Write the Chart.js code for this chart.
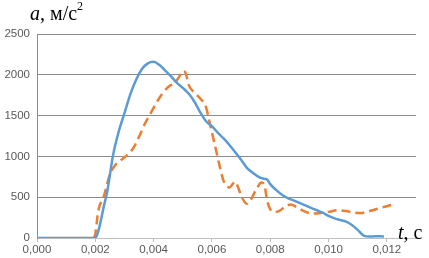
<!DOCTYPE html>
<html>
<head>
<meta charset="utf-8">
<script src="https://cdn.jsdelivr.net/npm/chart.js@4/dist/chart.umd.min.js"></script>
<style>
  html, body { margin: 0; padding: 0; background: #fff; }
  #wrap { position: relative; width: 429px; height: 258px; }
  .ttl { position: absolute; font-family: "Liberation Serif", "Times New Roman", serif; font-size: 20px; color: #000; white-space: nowrap; line-height: 1; }
  .ttl i { font-style: italic; }
  .ttl sup { font-size: 12px; position: relative; top: -3px; vertical-align: top; }
</style>
</head>
<body>
<div id="wrap">
  <canvas id="chart" width="429" height="258"></canvas>
  <div class="ttl" style="left:30px; top:3px;"><i>a</i>, м/с<sup>2</sup></div>
  <div class="ttl" style="left:398px; top:222px;"><i>t</i>, с</div>
</div>
<script>
// time, s
var tBlue = [0, 0.0005, 0.001, 0.0015, 0.002, 0.0021, 0.0022, 0.0023, 0.0024, 0.0025, 0.0026, 0.0028, 0.003, 0.0032, 0.0034, 0.0036, 0.0038, 0.004,
    0.0042, 0.0044, 0.0046, 0.0048, 0.005, 0.0052, 0.0054, 0.0056, 0.0058, 0.006, 0.0062, 0.0064, 0.0066, 0.0068, 0.007, 0.0072, 0.0074,
    0.0076, 0.0078, 0.0079, 0.008, 0.0082, 0.0084, 0.0086, 0.0088, 0.009, 0.0092, 0.0094, 0.0096, 0.0098, 0.01, 0.0102, 0.0104, 0.0106,
    0.0108, 0.011, 0.0112, 0.0114, 0.0116, 0.0118, 0.0119];
// acceleration, m/s2
var aBlue = [0, 0, 0, 0, 0, 80, 230, 400, 550, 770, 1000, 1300, 1530, 1760, 1940, 2070, 2140, 2160,
    2120, 2050, 1980, 1900, 1840, 1770, 1670, 1540, 1430, 1370, 1290, 1220, 1140, 1050, 960, 860, 800,
    750, 725, 715, 660, 590, 530, 490, 460, 430, 400, 370, 340, 310, 270, 240, 220, 200,
    160, 100, 30, 18, 20, 20, 18];

var tOrange = [0.00195, 0.002, 0.0021, 0.0023, 0.0025, 0.0027, 0.0029, 0.0031, 0.0033, 0.0035, 0.0037, 0.0039, 0.0041, 0.0043, 0.0045,
    0.0047, 0.0048, 0.0049, 0.005, 0.0051, 0.0052, 0.0054, 0.0056, 0.0058, 0.0059, 0.0061, 0.0063, 0.0064, 0.0066, 0.0068, 0.0069,
    0.007, 0.0072, 0.0073, 0.0075, 0.0077, 0.0078, 0.0079, 0.0081, 0.0083, 0.0085, 0.0087, 0.0089, 0.0091, 0.0093, 0.0095, 0.0098,
    0.01, 0.0103, 0.0106, 0.0109, 0.0111, 0.0114, 0.0117, 0.012, 0.0122];
var aOrange = [0, 50, 330, 520, 780, 900, 960, 1020, 1100, 1240, 1400, 1530, 1660, 1770, 1850,
    1900, 1935, 1990, 2050, 2020, 1880, 1780, 1710, 1600, 1450, 1140, 830, 700, 620, 690, 620,
    520, 420, 450, 580, 680, 650, 450, 320, 330, 380, 410, 380, 340, 310, 300, 310,
    320, 340, 330, 310, 305, 330, 360, 390, 410];

var xTicks = [0, 0.002, 0.004, 0.006, 0.008, 0.010, 0.012];
var yTicks = [0, 500, 1000, 1500, 2000, 2500];

function pts(xs, ys) {
    return xs.map(function (x, i) { return { x: x, y: ys[i] }; });
}

var ctx = document.getElementById('chart');
var chart = new Chart(ctx, {
    type: 'line',
    data: {
        datasets: [{
            data: pts(tBlue, aBlue),
            borderColor: '#5b9bd5',
            borderWidth: 2.5,
            pointRadius: 0,
            cubicInterpolationMode: 'monotone',
            fill: false
        }, {
            data: pts(tOrange, aOrange),
            borderColor: '#ed7d31',
            borderWidth: 2.5,
            borderDash: [9, 5],
            pointRadius: 0,
            cubicInterpolationMode: 'monotone',
            fill: false
        }]
    },
    options: {
        responsive: false,
        animation: false,
        layout: { padding: { top: 34, right: 13, left: 0, bottom: 0 } },
        plugins: { legend: { display: false }, tooltip: { enabled: false } },
        scales: {
            x: {
                type: 'linear',
                min: 0,
                max: 0.013,
                afterBuildTicks: function (axis) {
                    axis.ticks = xTicks.map(function (v) { return { value: v }; });
                },
                afterFit: function (axis) { axis.height = 20; },
                grid: { drawOnChartArea: false, color: '#bfbfbf', tickLength: 4 },
                border: { color: '#bfbfbf', width: 1 },
                ticks: {
                    color: '#595959',
                    font: { family: 'Liberation Sans', size: 11.5 },
                    padding: 1,
                    maxRotation: 0,
                    autoSkip: false,
                    callback: function (v) { return v.toFixed(3).replace('.', ','); }
                }
            },
            y: {
                min: 0,
                max: 2500,
                afterBuildTicks: function (axis) {
                    axis.ticks = yTicks.map(function (v) { return { value: v }; });
                },
                afterFit: function (axis) { axis.width = 37; },
                grid: { color: '#8c8c8c', tickLength: 0, lineWidth: 1 },
                border: { color: '#8c8c8c', width: 1 },
                ticks: {
                    color: '#595959',
                    font: { family: 'Liberation Sans', size: 11.5 },
                    padding: 7,
                    callback: function (v) { return String(v); }
                }
            }
        }
    }
});
</script>
</body>
</html>
